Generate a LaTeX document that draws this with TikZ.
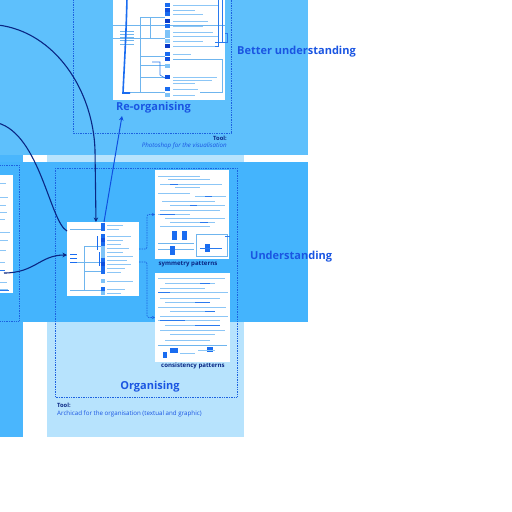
\documentclass[tikz,border=0pt]{standalone}
\usepackage{fontspec}
\setmainfont{Open Sans}
\usetikzlibrary{arrows.meta}
\definecolor{panelTop}{HTML}{5EC0FC}
\definecolor{panelMid}{HTML}{44B4FD}
\definecolor{panelLeft}{HTML}{4AB6FD}
\definecolor{panelLight}{HTML}{B7E3FD}
\definecolor{txtblue}{HTML}{1A55E2}
\definecolor{navy}{HTML}{0A2784}
\definecolor{dotblue}{HTML}{1C62E0}
\definecolor{imgline}{HTML}{8CC6F6}
\definecolor{treeline}{HTML}{6FB5EE}
\definecolor{sqA}{HTML}{1A6CF0}
\definecolor{sqB}{HTML}{0F4FE0}
\definecolor{sqC}{HTML}{7EC3F8}
\definecolor{sqD}{HTML}{0A3AC8}
\definecolor{darkline}{HTML}{2A7AEE}
\begin{document}
\begin{tikzpicture}[x=1pt,y=-1pt,
  dotbox/.style={draw=dotblue, line width=1pt, dash pattern=on 1pt off 0.7pt},
  imgbox/.style={fill=white, draw=none, inner sep=0pt, outer sep=0pt},
  bigtext/.style={font=\fontsize{11}{13}\selectfont\bfseries, text=txtblue, inner sep=0pt},
  captext/.style={font=\fontsize{6.1}{7}\selectfont\bfseries, text=navy, inner sep=0pt},
  tooltext/.style={font=\fontsize{5.8}{7}\selectfont\bfseries, text=navy, inner sep=0pt},
  smalltext/.style={font=\fontsize{6.2}{7}\selectfont, text=txtblue, inner sep=0pt},
  conn/.style={draw=navy, line width=1.1pt},
  tline/.style={draw=imgline, line width=0.9pt},
  dline/.style={draw=darkline, line width=0.9pt},
  tree/.style={draw=treeline, line width=0.5pt},
  dashconn/.style={draw=dotblue, line width=0.7pt, dash pattern=on 1.5pt off 1pt, rounded corners=2pt, -{Stealth[length=3pt,width=3pt]}}
]
\useasboundingbox (0,0) rectangle (512,512);
\fill[white] (0,0) rectangle (512,512);
% panels
\fill[panelLeft] (0,0) rectangle (23,437);
\fill[panelLight] (47,155) rectangle (244,437);
\fill[panelMid] (0,162) rectangle (308,322);
\fill[panelTop] (0,0) rectangle (308,155);
% dotted frames
\draw[dotbox] (73,-5) rectangle (231,133);
\draw[dotbox] (55,168) rectangle (237,397);
\draw[dotbox] (-5,165) rectangle (19,321);

% ---------- images ----------
\node[imgbox, minimum width=112pt, minimum height=105pt] (topimg) at (169,47.5) {};
\node[imgbox, minimum width=72pt, minimum height=74pt] (cimg) at (103,259) {};
\node[imgbox, minimum width=74pt, minimum height=89pt] (simg) at (192,214.5) {};
\node[imgbox, minimum width=75pt, minimum height=89pt] (kimg) at (192.5,317.5) {};
\node[imgbox, minimum width=18pt, minimum height=118pt] (limg) at (4,234) {};

% top image content
\draw[tree] (113,25) -- (225,25);
\draw[tree] (113,38) -- (150,38);
\draw[tree] (140,17) -- (140,92);
\draw[tree] (150,17) -- (150,38);
\foreach \yy/\xa in {17/140,38/150,56/140,65/140,77/140,92/130}{\draw[tree] (\xa,\yy) -- (165,\yy);}
\foreach \yy in {31,34,37,40,44}{\draw[tree] (120,\yy) -- (134,\yy);}
\foreach \yy/\ll/\cc in {5/45/sqA,10/22/sqB,14/30/sqA,21/35/sqD,26/30/sqA,32/40/sqC,36/45/sqC,41/30/sqC,46/42/sqD,54/18/sqA,59/30/sqB,66/0/sqC,77/44/sqB,89/25/sqA,95/22/sqC}{
  \fill[\cc] (165,\yy-2) rectangle (170,\yy+2);
  \draw[tline] (173,\yy) -- ++(\ll,0);
}
\draw[tline] (173,80) -- (212,80);
\draw[tline] (173,83) -- (195,83);
\draw[dline, line width=0.5pt] (218,0) -- (218,46) -- (215,46);
\draw[dline, line width=0.5pt] (222,0) -- (222,43);
\draw[dline, line width=0.5pt] (225,33) -- (227,33) -- (227,42) -- (215,42);
\draw[tree] (173,59) -- (222,59) -- (222,92) -- (200,92);
\draw[dline, line width=0.6pt] (152,62) -- (160,62) -- (160,75) -- (165,78);
\draw[sqA, line width=1.6pt] (127,-2) .. controls (126,40) and (124,70) .. (123,93) -- (130,93);

% center image content
\foreach \yy/\ll/\cc in {225/16/sqA,229/12/sqA,236/24/sqA,240/16/sqB,244/14/sqA,248/22/sqC,252/16/sqC,256/26/sqC,260/20/sqA,264/24/sqB,268/18/sqA,272/14/sqA,281/26/sqC,289/18/sqA,293/14/sqC}{
  \fill[\cc] (101,\yy-1.6) rectangle (105,\yy+1.6);
  \draw[tline, line width=0.7pt] (107,\yy) -- ++(\ll,0);
}
\draw[tree] (70,229) -- (101,229);
\draw[tree] (84,246) -- (101,246);
\draw[tree] (84,246) -- (84,290);
\draw[tree] (76,262) -- (101,262);
\draw[tree] (84,271) -- (101,271);
\draw[tree] (70,290) -- (101,290);
\draw[sqA, line width=0.8pt] (97,236) -- (97,250);
\draw[sqA, line width=0.8pt] (99,252) -- (99,266);
\foreach \yy in {254,258,262}{\draw[sqA, line width=0.8pt] (70,\yy) -- ++(7,0);}

% symmetry image content
\foreach \yy/\xa/\xb in {176/158/200,179/168/210,184/160/222,187/175/200,193/158/190,196/195/226,201/162/215,205/170/225,210/160/220,214/158/190,218/165/225,222/170/215,226/160/210}{
  \draw[tline, line width=0.6pt] (\xa,\yy) -- (\xb,\yy);
}
\foreach \yy/\xa/\xb in {184/170/178,196/205/212,205/190/197,214/160/175,222/200/208}{
  \draw[dline, line width=0.8pt] (\xa,\yy) -- (\xb,\yy);
}
\fill[sqA] (172,231) rectangle (177,240);
\fill[sqA] (182,231) rectangle (187,240);
\draw[tree] (158,243) -- (194,243);
\draw[tree] (158,249) -- (194,249);
\draw[treeline, line width=0.5pt] (196,234) rectangle (227,256);
\fill[sqA] (170,246) rectangle (175,255);
\fill[sqA] (205,244) rectangle (210,252);
\draw[dline, line width=0.6pt] (200,248) -- (222,248);
\draw[dline, line width=0.6pt] (225,236) -- (230,236);

% consistency image content
\foreach \yy/\xa/\xb in {278/158/225,283/165/215,288/160/205,292/170/228,298/160/220,302/165/210,307/158/226,311/170/215,316/160/228,320/158/220,325/165/210,330/160/225,334/170/215,340/165/210}{
  \draw[tline, line width=0.6pt] (\xa,\yy) -- (\xb,\yy);
}
\foreach \yy/\xa/\xb in {283/200/210,292/158/170,302/195/210,311/205/215,320/160/185,325/195/220}{
  \draw[dline, line width=0.8pt] (\xa,\yy) -- (\xb,\yy);
}
\draw[tree] (158,345) -- (227,345);
\fill[sqA] (170,348) rectangle (178,353);
\fill[sqA] (207,347) rectangle (213,352);
\fill[sqA] (163,352) rectangle (167,358);
\draw[tline, line width=0.6pt] (180,353) -- (195,353);
\draw[tline, line width=0.6pt] (198,350) -- (215,350);

% left image content
\foreach \yy/\ll in {183/6,197/8,205/6,212/7,219/5,232/10,240/8,250/6,262/5,282/7,289/8}{
  \draw[tline, line width=0.6pt] (0,\yy) -- ++(\ll,0);
}
\draw[dline, line width=0.8pt] (0,270) -- (5,270);
\draw[dline, line width=0.8pt] (0,290) -- (9,290);

% ---------- labels ----------
\node[bigtext] (reorg) at (153.5,108) {Re-organising};
\node[bigtext, anchor=west] (better) at (237,52) {Better understanding};
\node[bigtext, anchor=west] (underst) at (250,257) {Understanding};
\node[bigtext] (org) at (150,387) {Organising};
\node[captext] (symlab) at (188,264) {symmetry patterns};
\node[captext] (conlab) at (193,366) {consistency patterns};
\node[tooltext, anchor=east] (tool1) at (227,138) {Tool:};
\node[smalltext, anchor=east, font=\fontsize{6.2}{7}\selectfont\itshape] (tool1t) at (227,146) {Photoshop for the visualisation};
\node[tooltext, anchor=west] (tool2) at (57,405) {Tool:};
\node[smalltext, anchor=west] (tool2t) at (57,414) {Archicad for the organisation (textual and graphic)};

% ---------- connectors ----------
\coordinate (s1) at (-2,25);
\coordinate (s2) at (-2,123);
\coordinate (s3) at (4,273);
\coordinate (reotip) at (122,116);
\draw[conn, -{Stealth[length=4.5pt,width=4.5pt]}] (s1) .. controls (55,32) and (93,90) .. (95,150) -- ([xshift=-7pt]cimg.north);
\draw[conn] (s2) .. controls (40,135) and (50,222) .. ([yshift=28pt]cimg.west);
\draw[conn, -{Stealth[length=4.5pt,width=4.5pt]}] (s3) .. controls (35,273) and (40,255) .. ([yshift=4pt]cimg.west);
\draw[draw=sqB, line width=1pt, -{Stealth[length=4.5pt,width=4.5pt]}] ([xshift=1pt]cimg.north) -- (reotip);
\draw[dashconn] ([yshift=10pt]cimg.east) -- ++(8,0) |- (simg.west);
\draw[dashconn] ([yshift=-3pt]cimg.east) -- ++(8,0) |- (kimg.west);
\end{tikzpicture}
\end{document}
